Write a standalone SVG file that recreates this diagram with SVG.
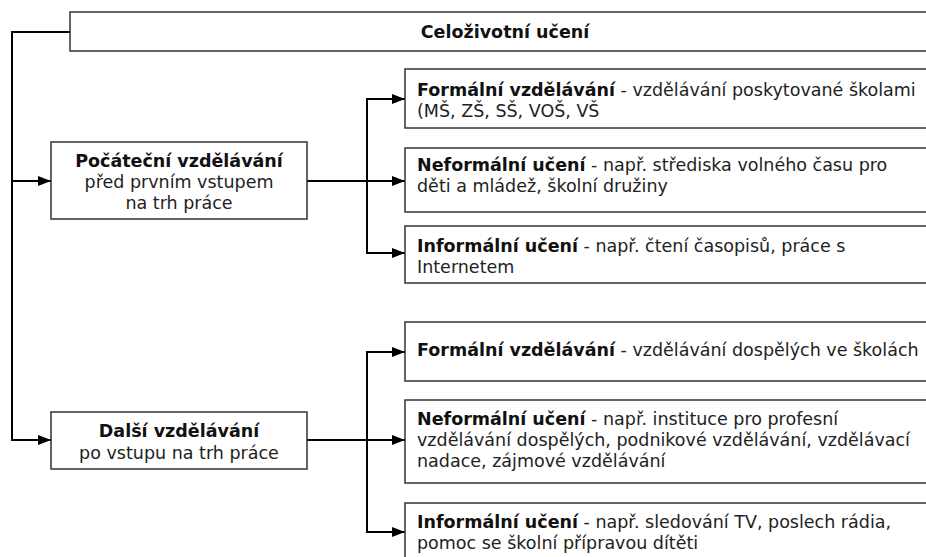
<svg xmlns="http://www.w3.org/2000/svg" width="926" height="557" viewBox="0 0 926 557">
<defs>
<marker id="arr" markerUnits="userSpaceOnUse" markerWidth="14" markerHeight="11" refX="13" refY="5" orient="auto">
<path d="M0,0 L13,5 L0,10 z" fill="#000"/>
</marker>
<style>
.box{fill:#fff;stroke:#333;stroke-width:1.5}
.t{font-family:"DejaVu Sans",Verdana,sans-serif;font-size:17.5px;fill:#222}
.b{font-weight:bold;fill:#111}
.c{text-anchor:middle}
.con{fill:none;stroke:#000;stroke-width:2}
</style>
</defs>
<rect width="926" height="557" fill="#fff"/>
<g id="connectors">
<path class="con" d="M70,32 H12 V440 H51" marker-end="url(#arr)"/>
<path class="con" d="M12,181 H51" marker-end="url(#arr)"/>
<path class="con" d="M307,181 H405" marker-end="url(#arr)"/>
<path class="con" d="M367,181 V99 H405" marker-end="url(#arr)"/>
<path class="con" d="M367,181 V253 H405" marker-end="url(#arr)"/>
<path class="con" d="M307,440 H405" marker-end="url(#arr)"/>
<path class="con" d="M367,440 V352 H405" marker-end="url(#arr)"/>
<path class="con" d="M367,440 V532 H405" marker-end="url(#arr)"/>
</g>
<g id="celozivotni">
<rect class="box" x="70" y="12" width="870" height="39"/>
<text class="t b c" x="505" y="38">Celoživotní učení</text>
</g>
<g id="pocatecni">
<rect class="box" x="51" y="142" width="256" height="77"/>
<text class="t c" x="179" y="167"><tspan class="b">Počáteční vzdělávání</tspan><tspan x="179" y="188">před prvním vstupem</tspan><tspan x="179" y="209">na trh práce</tspan></text>
</g>
<g id="dalsi">
<rect class="box" x="51" y="412" width="256" height="57"/>
<text class="t c" x="179" y="437"><tspan class="b">Další vzdělávání</tspan><tspan x="179" y="459">po vstupu na trh práce</tspan></text>
</g>
<g id="formalni1">
<rect class="box" x="405" y="69" width="540" height="59"/>
<text class="t" x="417" y="96"><tspan class="b">Formální vzdělávání</tspan> - vzdělávání poskytované školami<tspan x="417" y="117">(MŠ, ZŠ, SŠ, VOŠ, VŠ</tspan></text>
</g>
<g id="neformalni1">
<rect class="box" x="405" y="148" width="540" height="64"/>
<text class="t" x="417" y="171"><tspan class="b">Neformální učení</tspan> - např. střediska volného času pro<tspan x="417" y="192">děti a mládež, školní družiny</tspan></text>
</g>
<g id="informalni1">
<rect class="box" x="405" y="226" width="540" height="57"/>
<text class="t" x="417" y="252"><tspan class="b">Informální učení</tspan> - např. čtení časopisů, práce s<tspan x="417" y="273">Internetem</tspan></text>
</g>
<g id="formalni2">
<rect class="box" x="405" y="322" width="540" height="59"/>
<text class="t" x="417" y="356"><tspan class="b">Formální vzdělávání</tspan> - vzdělávání dospělých ve školách</text>
</g>
<g id="neformalni2">
<rect class="box" x="405" y="400" width="540" height="83"/>
<text class="t" x="417" y="425"><tspan class="b">Neformální učení</tspan> - např. instituce pro profesní<tspan x="417" y="446">vzdělávání dospělých, podnikové vzdělávání, vzdělávací</tspan><tspan x="417" y="467">nadace, zájmové vzdělávání</tspan></text>
</g>
<g id="informalni2">
<rect class="box" x="405" y="503" width="540" height="80"/>
<text class="t" x="417" y="528"><tspan class="b">Informální učení</tspan> - např. sledování TV, poslech rádia,<tspan x="417" y="549">pomoc se školní přípravou dítěti</tspan></text>
</g>
</svg>
